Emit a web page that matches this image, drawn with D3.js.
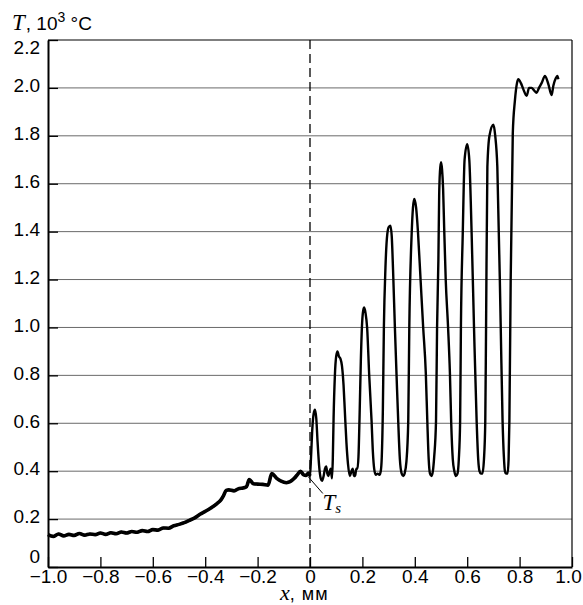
<!DOCTYPE html>
<html>
<head>
<meta charset="utf-8">
<script src="https://cdn.jsdelivr.net/npm/d3@7"></script>
<style>
  body { margin: 0; background: #fff; }
  svg text { font-family: "Liberation Sans", Arial, sans-serif; fill: #000; }
  .it { font-family: "Liberation Serif", "Times New Roman", serif; font-style: italic; }
</style>
</head>
<body>
<div id="chart"></div>
<script>
// tick values and labels
var xTicks = [-1.0, -0.8, -0.6, -0.4, -0.2, 0, 0.2, 0.4, 0.6, 0.8, 1.0];
var xTickLabels = ["\u22121.0", "\u22120.8", "\u22120.6", "\u22120.4", "\u22120.2", "0", "0.2", "0.4", "0.6", "0.8", "1.0"];
var yTicks = [0, 0.2, 0.4, 0.6, 0.8, 1.0, 1.2, 1.4, 1.6, 1.8, 2.0, 2.2];
var yTickLabels = ["0", "0.2", "0.4", "0.6", "0.8", "1.0", "1.2", "1.4", "1.6", "1.8", "2.0", "2.2"];

// T (10^3 °C) against x (mm)
// slow heating before x = 0
var preheat = [
  [-1.00, 0.135], [-0.98, 0.128], [-0.96, 0.138], [-0.94, 0.130], [-0.92, 0.136],
  [-0.90, 0.132], [-0.88, 0.140], [-0.86, 0.133], [-0.84, 0.138], [-0.82, 0.135],
  [-0.80, 0.142], [-0.78, 0.136], [-0.76, 0.143], [-0.74, 0.139], [-0.72, 0.146],
  [-0.70, 0.142], [-0.68, 0.148], [-0.66, 0.145], [-0.64, 0.152], [-0.62, 0.148],
  [-0.60, 0.156], [-0.58, 0.154], [-0.56, 0.163], [-0.54, 0.162], [-0.52, 0.172],
  [-0.50, 0.178], [-0.48, 0.185], [-0.46, 0.195], [-0.44, 0.205], [-0.42, 0.220],
  [-0.40, 0.232], [-0.38, 0.245], [-0.355, 0.265], [-0.34, 0.280], [-0.33, 0.298],
  [-0.32, 0.320], [-0.31, 0.322], [-0.29, 0.318], [-0.27, 0.328], [-0.255, 0.330],
  [-0.242, 0.336], [-0.232, 0.365], [-0.216, 0.348], [-0.20, 0.346], [-0.18, 0.345],
  [-0.16, 0.342], [-0.146, 0.390], [-0.127, 0.370], [-0.11, 0.358], [-0.09, 0.352],
  [-0.076, 0.356], [-0.06, 0.370], [-0.05, 0.383], [-0.036, 0.400], [-0.025, 0.385],
  [-0.015, 0.382], [-0.006, 0.392], [0.000, 0.380]
];

// pulses after x = 0
var pulses = [
  [0.004, 0.46], [0.009, 0.58], [0.014, 0.64], [0.019, 0.657], [0.024, 0.62],
  [0.029, 0.52], [0.035, 0.42], [0.041, 0.37], [0.046, 0.36], [0.052, 0.38],
  [0.057, 0.41], [0.062, 0.42], [0.066, 0.39], [0.070, 0.38], [0.075, 0.40],
  [0.079, 0.41], [0.084, 0.37], [0.087, 0.45], [0.090, 0.62], [0.095, 0.80],
  [0.100, 0.88], [0.105, 0.90], [0.110, 0.88], [0.116, 0.87], [0.122, 0.84],
  [0.128, 0.76], [0.133, 0.65], [0.139, 0.52], [0.145, 0.43], [0.152, 0.38],
  [0.158, 0.40], [0.163, 0.41], [0.168, 0.38], [0.172, 0.38], [0.177, 0.41],
  [0.181, 0.41], [0.185, 0.46], [0.189, 0.62], [0.194, 0.86], [0.199, 1.02],
  [0.203, 1.07], [0.207, 1.083], [0.212, 1.06], [0.218, 1.00], [0.226, 0.80],
  [0.235, 0.61], [0.240, 0.48], [0.245, 0.41], [0.251, 0.385], [0.258, 0.39],
  [0.265, 0.385], [0.270, 0.40], [0.274, 0.46], [0.278, 0.65], [0.282, 1.00],
  [0.288, 1.25], [0.295, 1.39], [0.301, 1.42], [0.307, 1.425], [0.312, 1.38],
  [0.317, 1.24], [0.324, 1.00], [0.331, 0.78], [0.337, 0.60], [0.343, 0.45],
  [0.350, 0.39], [0.356, 0.38], [0.361, 0.39], [0.368, 0.44], [0.375, 0.61],
  [0.379, 1.00], [0.388, 1.39], [0.393, 1.50], [0.398, 1.536], [0.405, 1.50],
  [0.412, 1.40], [0.422, 1.20], [0.432, 1.00], [0.442, 0.81], [0.448, 0.60],
  [0.453, 0.45], [0.458, 0.39], [0.464, 0.38], [0.469, 0.40], [0.474, 0.46],
  [0.481, 0.61], [0.485, 1.00], [0.490, 1.28], [0.493, 1.55], [0.496, 1.65],
  [0.500, 1.69], [0.504, 1.66], [0.508, 1.58], [0.512, 1.42], [0.518, 1.20],
  [0.527, 1.00], [0.534, 0.81], [0.539, 0.60], [0.545, 0.45], [0.551, 0.40],
  [0.557, 0.38], [0.563, 0.39], [0.568, 0.45], [0.573, 0.61], [0.576, 1.00],
  [0.583, 1.39], [0.590, 1.70], [0.600, 1.765], [0.608, 1.70], [0.617, 1.39],
  [0.626, 1.00], [0.636, 0.61], [0.642, 0.45], [0.647, 0.40], [0.652, 0.39],
  [0.658, 0.39], [0.664, 0.45], [0.669, 0.61], [0.672, 1.00], [0.677, 1.67],
  [0.685, 1.80], [0.700, 1.846], [0.707, 1.80], [0.715, 1.67], [0.728, 1.00],
  [0.735, 0.61], [0.740, 0.46], [0.744, 0.40], [0.748, 0.39], [0.754, 0.39],
  [0.758, 0.45], [0.761, 0.61], [0.766, 1.20], [0.774, 1.81], [0.782, 1.946],
  [0.790, 2.02], [0.795, 2.036]
];

// wavy top at the end
var plateau = [
  [0.805, 2.02], [0.814, 1.995], [0.827, 1.967], [0.836, 2.00], [0.846, 2.00],
  [0.855, 1.99], [0.865, 1.98], [0.874, 2.00], [0.884, 2.02], [0.897, 2.05],
  [0.910, 2.015], [0.922, 1.97], [0.929, 2.01], [0.938, 2.04], [0.944, 2.05],
  [0.948, 2.036]
];

// Ts pointer: from the curve to the label
var tsPointer = [[-0.006, 0.376], [0.049, 0.307]];
var tsLabelAt = [0.048, 0.237];

var svgWidth = 583;
var svgHeight = 605;
var margin = { top: 40, right: 11, bottom: 38, left: 48 };
var width = svgWidth - margin.left - margin.right;
var height = svgHeight - margin.top - margin.bottom;

var svg = d3.select("#chart")
  .append("svg")
  .attr("width", svgWidth)
  .attr("height", svgHeight);

var chartGroup = svg.append("g")
  .attr("transform", `translate(${margin.left}, ${margin.top})`);

var xScale = d3.scaleLinear().domain([-1, 1]).range([0, width]);
var yScale = d3.scaleLinear().domain([0, 2.2]).range([height, 0]);

// gridlines
chartGroup.selectAll(".grid")
  .data(yTicks.filter(d => d > 0 && d < 2.2))
  .enter()
  .append("line")
  .attr("x1", 0)
  .attr("x2", width)
  .attr("y1", d => yScale(d))
  .attr("y2", d => yScale(d))
  .attr("stroke", "#6a6a6a")
  .attr("stroke-width", 1);

// frame top and right
chartGroup.append("line")
  .attr("x1", 0).attr("x2", width)
  .attr("y1", yScale(2.2)).attr("y2", yScale(2.2))
  .attr("stroke", "#000").attr("stroke-width", 1.2);
chartGroup.append("line")
  .attr("x1", xScale(1)).attr("x2", xScale(1))
  .attr("y1", 0).attr("y2", height)
  .attr("stroke", "#000").attr("stroke-width", 1.2);

// dashed line at x = 0
chartGroup.append("line")
  .attr("x1", xScale(0)).attr("x2", xScale(0))
  .attr("y1", 0).attr("y2", height)
  .attr("stroke", "#000")
  .attr("stroke-width", 1.3)
  .attr("stroke-dasharray", "9,5");

// axes
var bottomAxis = d3.axisBottom(xScale)
  .tickValues(xTicks)
  .tickFormat((d, i) => xTickLabels[i])
  .tickSizeInner(-10)
  .tickSizeOuter(0)
  .tickPadding(2);

var leftAxis = d3.axisLeft(yScale)
  .tickValues(yTicks)
  .tickFormat((d, i) => yTickLabels[i])
  .tickSizeInner(-10)
  .tickSizeOuter(0)
  .tickPadding(8);

var xAxisG = chartGroup.append("g")
  .attr("transform", `translate(0, ${height})`)
  .call(bottomAxis);

var yAxisG = chartGroup.append("g")
  .call(leftAxis);

[xAxisG, yAxisG].forEach(function(g) {
  g.select(".domain").attr("stroke", "#000").attr("stroke-width", 2);
  g.selectAll(".tick line").attr("stroke", "#000").attr("stroke-width", 1.3);
  g.selectAll("text")
    .attr("font-family", "Liberation Sans, Arial, sans-serif")
    .attr("font-size", 19)
    .attr("fill", "#000");
});

// y labels sit a little above their lines; the top one hangs below the frame
yAxisG.selectAll(".tick text").attr("dy", (d, i) => i === 0 ? "-0.25em" : (i === yTicks.length - 1 ? "0.72em" : "0.2em"));
// keep the last x label inside the page
xAxisG.selectAll(".tick text").filter((d, i) => i === xTicks.length - 1).attr("dx", -4);

// curve
var line = d3.line()
  .x(d => xScale(d[0]))
  .y(d => yScale(d[1]))
  .curve(d3.curveMonotoneX);

var allPoints = preheat.concat(pulses, plateau);

chartGroup.append("path")
  .datum(preheat)
  .attr("d", line)
  .attr("fill", "none")
  .attr("stroke", "#000")
  .attr("stroke-width", 3.6)
  .attr("stroke-linejoin", "round");

chartGroup.append("path")
  .datum(allPoints)
  .attr("d", line)
  .attr("fill", "none")
  .attr("stroke", "#000")
  .attr("stroke-width", 2.4)
  .attr("stroke-linejoin", "round");

// Ts note
chartGroup.append("line")
  .attr("x1", xScale(tsPointer[0][0])).attr("y1", yScale(tsPointer[0][1]))
  .attr("x2", xScale(tsPointer[1][0])).attr("y2", yScale(tsPointer[1][1]))
  .attr("stroke", "#000").attr("stroke-width", 1);

var tsText = chartGroup.append("text")
  .attr("x", xScale(tsLabelAt[0]))
  .attr("y", yScale(tsLabelAt[1]))
  .attr("class", "it")
  .attr("font-size", 23);
tsText.append("tspan").text("T");
tsText.append("tspan").attr("font-size", 15).attr("dy", 3).text("s");

// axis titles
var yTitle = svg.append("text")
  .attr("x", 12)
  .attr("y", 30)
  .attr("font-size", 19);
yTitle.append("tspan").attr("class", "it").attr("font-size", 23).text("T");
yTitle.append("tspan").attr("dx", 1).text(", 10");
yTitle.append("tspan").attr("font-size", 14).attr("dy", -8).text("3");
yTitle.append("tspan").attr("dy", 8).text(" \u00b0C");

var xTitle = svg.append("text")
  .attr("x", 280)
  .attr("y", 600)
  .attr("font-size", 18);
xTitle.append("tspan").attr("class", "it").attr("font-size", 22).text("x");
xTitle.append("tspan").attr("letter-spacing", 1).text(",  мм");
</script>
</body>
</html>
